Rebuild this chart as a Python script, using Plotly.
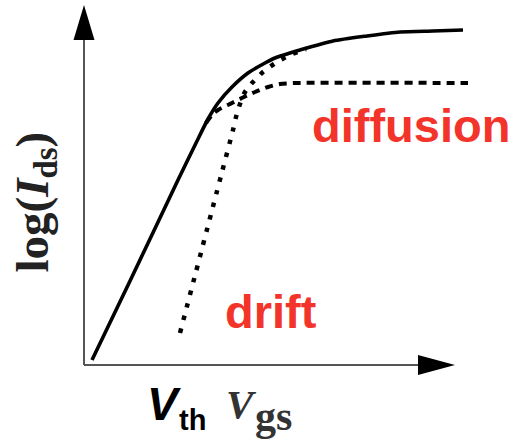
import plotly.graph_objects as go

# Schematic values (arbitrary units, origin at axes corner)
vgs_total = [8, 46, 94, 113, 124, 134, 148, 164, 181, 191, 206, 216, 249, 283, 316, 349, 379]
logI_total = [5, 84, 185, 224, 246, 262, 278, 292, 302, 307, 312, 315, 324, 329, 333, 334, 335]

vgs_diff = [122, 128, 134, 148, 160, 171, 184, 196, 211, 384]
logI_diff = [242, 250, 255, 262, 268, 273, 278, 281, 282, 282]

vgs_drift = [96, 138, 149, 152, 156, 161, 169, 179, 190, 204, 216, 222]
logI_drift = [32, 193, 235, 248, 261, 273, 283, 293, 301, 309, 314, 316]

label_diff = "diffusion"
label_drift = "drift"
RED = "#f2342a"

fig = go.Figure()
fig.add_trace(go.Scatter(x=vgs_diff, y=logI_diff, mode="lines",
                         line=dict(color="black", width=4, dash="8px,6px", shape="spline", smoothing=0.6),
                         hoverinfo="skip"))
fig.add_trace(go.Scatter(x=vgs_drift, y=logI_drift, mode="lines",
                         line=dict(color="black", width=4.5, dash="4.5px,8.5px", shape="spline", smoothing=0.6),
                         hoverinfo="skip"))
fig.add_trace(go.Scatter(x=vgs_total, y=logI_total, mode="lines",
                         line=dict(color="black", width=3.6, shape="spline", smoothing=0.6),
                         hoverinfo="skip"))

# axes with arrowheads
fig.add_shape(type="line", x0=0, y0=0, x1=0, y1=326, line=dict(color="#555", width=2))
fig.add_shape(type="line", x0=0, y0=0, x1=335, y1=0, line=dict(color="#555", width=2))
fig.add_shape(type="path", path="M -10.5,325 L 10.5,325 L 0,360 Z", fillcolor="black", line=dict(width=0))
fig.add_shape(type="path", path="M 334,-10 L 334,10 L 371,0 Z", fillcolor="black", line=dict(width=0))

sans = "Liberation Sans, Arial, sans-serif"
serif = "Liberation Serif, Times New Roman, serif"

fig.add_annotation(x=226, y=239.5, text="<b>" + label_diff + "</b>", showarrow=False,
                   xanchor="left", yanchor="middle", font=dict(family=sans, size=47, color=RED))
fig.add_annotation(x=139, y=53.5, text="<b>" + label_drift + "</b>", showarrow=False,
                   xanchor="left", yanchor="middle", font=dict(family=sans, size=47, color=RED))

# x labels
fig.add_annotation(x=61, y=-39, text="<b><i>V</i></b>", showarrow=False,
                   xanchor="left", yanchor="middle", font=dict(family=sans, size=46, color="black"))
fig.add_annotation(x=93, y=-55, text="<b>th</b>", showarrow=False,
                   xanchor="left", yanchor="middle", font=dict(family=sans, size=29, color="black"))
fig.add_annotation(x=140, y=-39.2, text="<b><i>V</i></b>", showarrow=False,
                   xanchor="left", yanchor="middle", font=dict(family=serif, size=41, color="#333"))
fig.add_annotation(x=169, y=-50.8, text="<b>gs</b>", showarrow=False,
                   xanchor="left", yanchor="middle", font=dict(family=serif, size=42, color="#333"))

# y label
fig.add_annotation(x=-49.5, y=163, text="<b>log(<i>I</i><sub>ds</sub>)</b>", showarrow=False,
                   textangle=-90, xanchor="center", yanchor="middle",
                   font=dict(family=serif, size=47, color="#222"))

fig.update_layout(width=518, height=440, margin=dict(l=0, r=0, t=0, b=0),
                  paper_bgcolor="white", plot_bgcolor="white", showlegend=False,
                  xaxis=dict(range=[-84, 434], visible=False, fixedrange=True),
                  yaxis=dict(range=[-75, 365], visible=False, fixedrange=True))

fig.write_html("out.html")
